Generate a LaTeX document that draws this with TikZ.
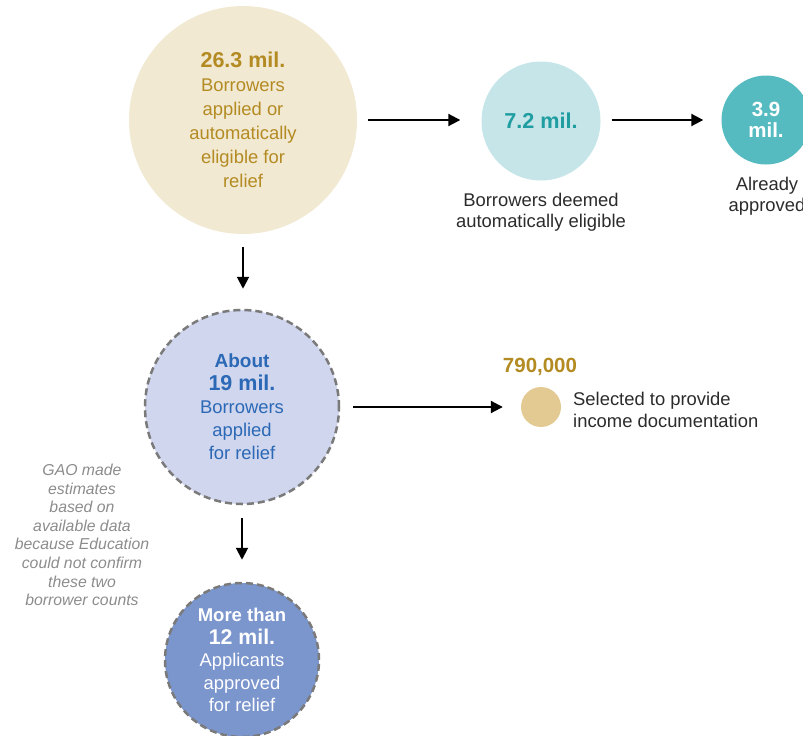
\documentclass[tikz,border=0pt]{standalone}
\usepackage{fontspec}
\setmainfont{Liberation Sans}
\usetikzlibrary{arrows.meta}
\definecolor{beigefill}{HTML}{F2E9D3}
\definecolor{goldtext}{HTML}{B38B22}
\definecolor{tealfill}{HTML}{C5E5E8}
\definecolor{tealtext}{HTML}{1F9DA1}
\definecolor{tealdark}{HTML}{55BBC0}
\definecolor{lavfill}{HTML}{CFD6EE}
\definecolor{bluetext}{HTML}{2B68B5}
\definecolor{bluefill}{HTML}{7B95CD}
\definecolor{sandfill}{HTML}{E3CA92}
\definecolor{notegray}{HTML}{8C8C8C}
\definecolor{dashgray}{HTML}{7A7A7A}
\definecolor{labeltext}{HTML}{2B2B2B}
\tikzset{
  bubble/.style={circle, inner sep=0pt, align=center},
  dashbubble/.style={bubble, draw=dashgray, line width=2.5pt, dash pattern=on 7pt off 4pt},
  arr/.style={line width=2pt, -{Triangle[length=12pt,width=12pt]}},
  caption/.style={align=center, text=labeltext, font=\fontsize{18.4}{21.5}\selectfont},
}
\begin{document}
\begin{tikzpicture}[x=1pt,y=-1pt]
\useasboundingbox (0,0) rectangle (803,736);
% top row
\node[bubble, fill=beigefill, minimum size=228pt, text=goldtext,
  font=\fontsize{18.4}{24}\selectfont] (a) at (243,120)
  {{\fontsize{21.5}{24}\selectfont\bfseries 26.3 mil.}\\Borrowers\\applied or\\automatically\\eligible for\\relief};
\node[bubble, fill=tealfill, minimum size=119pt, text=tealtext,
  font=\fontsize{21.6}{24}\selectfont\bfseries] (b) at (541,121) {7.2 mil.};
\node[bubble, fill=tealdark, minimum size=89pt, text=white,
  font=\fontsize{20.5}{21.5}\selectfont\bfseries] (c) at (766,120) {3.9\\mil.};
\node[caption] (bl) at (541,212) {Borrowers deemed\\automatically eligible};
\node[caption] (cl) at (767,196) {Already\\approved};
% middle
\node[dashbubble, fill=lavfill, minimum size=194pt, text=bluetext,
  font=\fontsize{18.4}{23}\selectfont] (d) at (242,407)
  {{\fontsize{19}{23}\selectfont\bfseries About}\\{\fontsize{21.5}{24}\selectfont\bfseries 19 mil.}\\Borrowers\\applied\\for relief};
\node[bubble, fill=sandfill, minimum size=40pt] (s) at (541,407) {};
\node[text=goldtext, font=\fontsize{20.5}{22}\selectfont\bfseries] (sn) at (540,367) {790,000};
\node[anchor=west, align=left, text=labeltext, inner sep=0pt,
  font=\fontsize{18.4}{21.5}\selectfont] (sl) at (573,410) {Selected to provide\\income documentation};
% bottom
\node[dashbubble, fill=bluefill, minimum size=154pt, text=white,
  font=\fontsize{18.4}{22.5}\selectfont] (e) at (242,660)
  {{\fontsize{18.5}{22.5}\selectfont\bfseries More than}\\{\fontsize{21.3}{24}\selectfont\bfseries 12 mil.}\\Applicants\\approved\\for relief};
\node[align=center, text=notegray, font=\fontsize{15.8}{18.6}\selectfont\itshape] (note) at (82,535)
  {GAO made\\estimates\\based on\\available data\\because Education\\could not confirm\\these two\\borrower counts};
% connectors
\draw[arr] ([xshift=11pt]a.east) -- ([xshift=-21pt]b.west |- a.east);
\draw[arr] ([xshift=11pt]b.east |- a.east) -- ([xshift=-18pt]c.west |- a.east);
\draw[arr] ([yshift=-13pt]a.south) -- ([yshift=20pt]d.north -| a.south);
\draw[arr] ([xshift=13pt]d.east) -- ([xshift=-18pt]s.west);
\draw[arr] ([yshift=-13pt]d.south) -- ([yshift=22pt]e.north);
\end{tikzpicture}
\end{document}
